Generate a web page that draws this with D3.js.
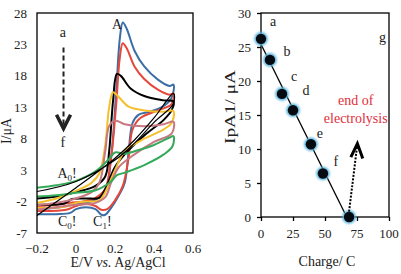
<!DOCTYPE html>
<meta charset="utf-8">
<style>
body { margin: 0; background: #fff; }
text { font-family: "Liberation Serif", "Times New Roman", serif; }
</style>
<svg width="401" height="274"></svg>
<script src="https://d3js.org/d3.v7.min.js"></script>
<script>
// ---- data: cyclic voltammograms (E in V, I in uA), forward then reverse scan
var cvNames = ["a", "b", "c", "d", "e", "f", "g"];
var cvBlue = [[-0.2,-3.2],[-0.1,-3.0],[-0.03,-2.6],[0.05,-2.2],[0.1,-1.7],[0.15,-0.3],[0.18,5],[0.205,15],[0.225,24],[0.24,26.5],[0.26,25.5],[0.3,22],[0.35,19.5],[0.42,17.4],[0.48,16.4],[0.5,16.6],
  [0.49,14.5],[0.45,13.2],[0.38,12.3],[0.32,11.8],[0.29,10.5],[0.27,6],[0.25,1],[0.22,-1],[0.18,-3],[0.15,-4.1],[0.13,-4.1],[0.1,-3.2],[0.05,-2.9],[0.0,-3.2],[-0.03,-3.8],[-0.1,-4.0],[-0.2,-4.0]];
var cvRed = [[-0.2,-2.7],[-0.1,-2.5],[-0.03,-2.2],[0.05,-1.9],[0.1,-1.4],[0.15,0],[0.18,5],[0.205,13],[0.225,21],[0.24,23.2],[0.26,22.4],[0.3,19.5],[0.35,17.5],[0.42,15.8],[0.48,15.0],[0.5,15.2],
  [0.49,13.5],[0.42,12.5],[0.33,11.3],[0.29,9.5],[0.27,5],[0.24,0.5],[0.2,-1.8],[0.16,-3.2],[0.13,-3.3],[0.1,-2.7],[0.05,-2.4],[0.0,-2.7],[-0.05,-3.3],[-0.2,-3.5]];
var cvBlack = [[-0.2,-1.5],[-0.1,-1.2],[0.0,-0.5],[0.1,0.5],[0.15,2],[0.17,6],[0.19,14],[0.21,18.3],[0.23,18.0],[0.28,16],[0.35,14.8],[0.45,14.1],[0.5,13.9],
  [0.49,12.5],[0.45,11],[0.35,8.5],[0.25,5.5],[0.2,3.5],[0.15,0],[0.12,-1.4],[0.05,-1.5],[-0.02,-1.6],[-0.06,-2.3],[-0.2,-2.5]];
var cvGold = [[-0.2,-2.2],[-0.1,-1.5],[0.0,-0.3],[0.08,1],[0.12,2.5],[0.15,7],[0.17,13],[0.19,15.4],[0.22,14.6],[0.27,13.1],[0.35,12.5],[0.45,12.3],[0.5,12.4],
  [0.49,10.5],[0.45,9.5],[0.35,8],[0.25,6],[0.2,3],[0.15,-0.5],[0.12,-1.8],[0.05,-2],[0.0,-2.2],[-0.05,-2.8],[-0.2,-3]];
var cvMauve = [[-0.2,-2.6],[-0.1,-2.2],[0.0,-1.5],[0.08,-0.5],[0.12,1],[0.15,6],[0.17,10],[0.2,10.9],[0.25,10.3],[0.35,10],[0.45,10.3],[0.5,10.7],
  [0.49,8.8],[0.4,7.5],[0.3,5.5],[0.22,3.5],[0.18,1],[0.15,-1.3],[0.1,-2.2],[0.0,-2.5],[-0.2,-3.3]];
var cvGreen = [[-0.2,0.2],[-0.1,0.6],[0.0,1.3],[0.1,2.8],[0.17,4.8],[0.2,5.8],[0.25,5.6],[0.3,6],[0.4,7],[0.48,8.2],[0.5,8.4],
  [0.495,6.8],[0.45,5.5],[0.35,3.8],[0.25,2.6],[0.21,2.2],[0.18,1.2],[0.1,-0.2],[0.0,-0.6],[-0.1,-1.0],[-0.2,-1.2]];
var cvBlack2 = [[-0.2,-4.2],[0.0,0.2],[0.2,4.9],[0.3,7.8],[0.4,11.3],[0.5,15.2],
  [0.5,13.6],[0.4,10.6],[0.3,7.3],[0.2,4.6],[0.0,1.2],[-0.2,-0.4]];
var cvSeries = [cvBlue, cvRed, cvBlack, cvGold, cvMauve, cvGreen, cvBlack2];
var cvColors = ["#3b6ea5", "#e5473a", "#000000", "#f4c02c", "#c77880", "#35a95a", "#000000"];
var cvWidths = [2, 2, 2, 2, 2, 2, 1.2];

var eTicks = [-0.2, 0, 0.2, 0.4, 0.6];
var iTicks = [-7, -2, 3, 8, 13, 18, 23, 28];

// ---- data: anodic peak current vs charge passed
var ptLabels = ["a", "b", "c", "d", "e", "f", "g"];
var charge = [0, 7, 16.4, 25, 39, 48.4, 68.8];
var ipA1 = [26.2, 23.1, 18.1, 15.7, 10.7, 6.4, 0];
var qTicks = [0, 25, 50, 75, 100];
var ipTicks = [0, 5, 10, 15, 20, 25, 30];

var svg = d3.select("svg");

// ================= left panel =================
var x1 = d3.scaleLinear().domain([-0.2, 0.6]).range([37, 193]);
var y1 = d3.scaleLinear().domain([-7, 28]).range([233, 13]);

var left = svg.append("g");

var cvLine = d3.line()
  .x(function(d) { return x1(d[0]); })
  .y(function(d) { return y1(d[1]); })
  .curve(d3.curveCatmullRom.alpha(0.5));

left.selectAll("path.cv")
  .data(cvSeries)
  .enter()
  .append("path")
  .attr("class", "cv")
  .attr("d", cvLine)
  .attr("fill", "none")
  .attr("stroke", function(d, i) { return cvColors[i]; })
  .attr("stroke-width", function(d, i) { return cvWidths[i]; })
  .attr("stroke-linejoin", "round");

left.append("rect")
  .attr("x", x1(-0.2)).attr("y", y1(28))
  .attr("width", x1(0.6) - x1(-0.2)).attr("height", y1(-7) - y1(28))
  .attr("fill", "none").attr("stroke", "#000").attr("stroke-width", 1.3);

left.selectAll("text.ytick")
  .data(iTicks)
  .enter()
  .append("text")
  .attr("class", "ytick")
  .attr("x", 27)
  .attr("y", function(d) { return y1(d) + 4.5; })
  .attr("text-anchor", "end")
  .attr("font-size", 13)
  .attr("fill", "#222")
  .text(function(d) { return d; });

left.selectAll("text.xtick")
  .data(eTicks)
  .enter()
  .append("text")
  .attr("class", "xtick")
  .attr("x", function(d) { return x1(d); })
  .attr("y", 253)
  .attr("text-anchor", "middle")
  .attr("font-size", 13)
  .attr("fill", "#222")
  .text(function(d) { return d === 0 ? "0" : d3.format(".1f")(d); });

var xt = left.append("text")
  .attr("x", 118).attr("y", 267)
  .attr("text-anchor", "middle")
  .attr("font-size", 14)
  .attr("fill", "#222");
xt.append("tspan").text("E/V  ");
xt.append("tspan").attr("font-style", "italic").text("vs.");
xt.append("tspan").text(" Ag/AgCl");

left.append("text")
  .attr("transform", "translate(11,131) rotate(-90)")
  .attr("text-anchor", "middle")
  .attr("font-size", 14)
  .attr("fill", "#222")
  .text("I/\u03bcA");

// annotations inside the CV panel
left.append("text").attr("x", x1(-0.067)).attr("y", y1(24.2))
  .attr("text-anchor", "middle").attr("font-size", 14).attr("fill", "#222").text("a");
left.append("text").attr("x", x1(-0.067)).attr("y", y1(6.7))
  .attr("text-anchor", "middle").attr("font-size", 14).attr("fill", "#222").text("f");
left.append("line")
  .attr("x1", x1(-0.064)).attr("x2", x1(-0.064))
  .attr("y1", y1(22.5)).attr("y2", y1(9.8))
  .attr("stroke", "#222").attr("stroke-width", 2).attr("stroke-dasharray", "5,3");
left.append("polyline")
  .attr("points", [[x1(-0.1), y1(11.8)], [x1(-0.064), y1(9.6)], [x1(-0.028), y1(11.8)]].join(" "))
  .attr("fill", "none").attr("stroke", "#222").attr("stroke-width", 3.5);

function subLabel(g, x, y, main, sub, tail) {
  var t = g.append("text").attr("x", x).attr("y", y)
    .attr("text-anchor", "middle").attr("font-size", 14).attr("fill", "#222");
  t.append("tspan").text(main);
  t.append("tspan").attr("font-size", 9).attr("dy", 3).text(sub);
  t.append("tspan").attr("dy", -3).text(tail);
}
left.append("text").attr("x", x1(0.21)).attr("y", y1(25.4))
  .attr("text-anchor", "middle").attr("font-size", 14).attr("fill", "#222").text("A");
subLabel(left, x1(-0.046), y1(1.7), "A", "0", "!");
subLabel(left, x1(-0.045), y1(-5.9), "C", "0", "!");
subLabel(left, x1(0.135), y1(-5.9), "C", "1", "!");

// ================= right panel =================
var x2 = d3.scaleLinear().domain([0, 100]).range([261, 389]);
var y2 = d3.scaleLinear().domain([0, 30]).range([217, 13]);

var right = svg.append("g");

var defs = svg.append("defs");
defs.append("filter").attr("id", "glow")
  .attr("x", "-50%").attr("y", "-50%").attr("width", "200%").attr("height", "200%")
  .append("feGaussianBlur").attr("stdDeviation", 1.2);

right.append("g")
  .attr("transform", "translate(0,217)")
  .call(d3.axisBottom(x2).tickValues(qTicks).tickSize(4).tickFormat(""))
  .call(function(g) { g.select(".domain").remove(); g.selectAll("line").attr("stroke-width", 1.3); });
right.append("g")
  .attr("transform", "translate(261,0)")
  .call(d3.axisLeft(y2).tickValues(ipTicks).tickSize(4).tickFormat(""))
  .call(function(g) { g.select(".domain").remove(); g.selectAll("line").attr("stroke-width", 1.3); });

right.append("rect")
  .attr("x", x2(0)).attr("y", y2(30))
  .attr("width", x2(100) - x2(0)).attr("height", y2(0) - y2(30))
  .attr("fill", "none").attr("stroke", "#000").attr("stroke-width", 1.3);

right.selectAll("text.ytick")
  .data(ipTicks)
  .enter()
  .append("text")
  .attr("class", "ytick")
  .attr("x", 251)
  .attr("y", function(d) { return y2(d) + 4.5; })
  .attr("text-anchor", "end")
  .attr("font-size", 13)
  .attr("fill", "#222")
  .text(function(d) { return d; });

right.selectAll("text.xtick")
  .data(qTicks)
  .enter()
  .append("text")
  .attr("class", "xtick")
  .attr("x", function(d) { return x2(d); })
  .attr("y", 238)
  .attr("text-anchor", "middle")
  .attr("font-size", 13)
  .attr("fill", "#222")
  .text(function(d) { return d; });

right.append("text")
  .attr("x", 327).attr("y", 266)
  .attr("text-anchor", "middle")
  .attr("font-size", 14)
  .attr("fill", "#222")
  .text("Charge/ C");

right.append("text")
  .attr("transform", "translate(235,107) rotate(-90)")
  .attr("text-anchor", "middle")
  .attr("font-size", 14)
  .attr("textLength", 74)
  .attr("lengthAdjust", "spacingAndGlyphs")
  .attr("fill", "#222")
  .text("IpA1/ \u03bcA");

// least-squares line through the points
var pts = charge.map(function(c, i) { return [c, ipA1[i]]; });
var mx = d3.mean(charge), my = d3.mean(ipA1);
var slope = d3.sum(pts, function(p) { return (p[0] - mx) * (p[1] - my); }) /
            d3.sum(pts, function(p) { return (p[0] - mx) * (p[0] - mx); });
var icpt = my - slope * mx;
right.append("line")
  .attr("x1", x2(0)).attr("y1", y2(icpt))
  .attr("x2", x2(-icpt / slope)).attr("y2", y2(0))
  .attr("stroke", "#000").attr("stroke-width", 1.3);

right.selectAll("circle.halo")
  .data(pts)
  .enter()
  .append("circle")
  .attr("class", "halo")
  .attr("cx", function(d) { return x2(d[0]); })
  .attr("cy", function(d) { return y2(d[1]); })
  .attr("r", 6.8)
  .attr("fill", "#5bb4dc")
  .attr("filter", "url(#glow)");
right.selectAll("circle.pt")
  .data(pts)
  .enter()
  .append("circle")
  .attr("class", "pt")
  .attr("cx", function(d) { return x2(d[0]); })
  .attr("cy", function(d) { return y2(d[1]); })
  .attr("r", 5.2)
  .attr("fill", "#050a10");

// point letters (offsets in px from each point)
var labelDx = [12, 17, 12, 13, 9, 13];
var labelDy = [-13, -4, -13, -15, -6, -7];
right.selectAll("text.plab")
  .data(pts.slice(0, 6))
  .enter()
  .append("text")
  .attr("class", "plab")
  .attr("x", function(d, i) { return x2(d[0]) + labelDx[i]; })
  .attr("y", function(d, i) { return y2(d[1]) + labelDy[i]; })
  .attr("text-anchor", "middle")
  .attr("font-size", 14)
  .attr("fill", "#222")
  .text(function(d, i) { return ptLabels[i]; });
right.append("text")
  .attr("x", x2(95)).attr("y", y2(25.8))
  .attr("text-anchor", "middle")
  .attr("font-size", 14)
  .attr("fill", "#222")
  .text(ptLabels[6]);

right.append("text")
  .attr("x", x2(74)).attr("y", y2(16.4))
  .attr("text-anchor", "middle").attr("font-size", 14).attr("fill", "#e0303c")
  .text("end of");
right.append("text")
  .attr("x", x2(74)).attr("y", y2(13.8))
  .attr("text-anchor", "middle").attr("font-size", 14).attr("fill", "#e0303c")
  .text("electrolysis");

right.append("line")
  .attr("x1", x2(68.8)).attr("y1", y2(0.8))
  .attr("x2", x2(75)).attr("y2", y2(10.3))
  .attr("stroke", "#000").attr("stroke-width", 2).attr("stroke-dasharray", "2,1.5");
right.append("polyline")
  .attr("points", [[x2(70.2), y2(8.8)], [x2(75.3), y2(10.8)], [x2(79.5), y2(8.6)]].join(" "))
  .attr("fill", "none").attr("stroke", "#000").attr("stroke-width", 3);
</script>
